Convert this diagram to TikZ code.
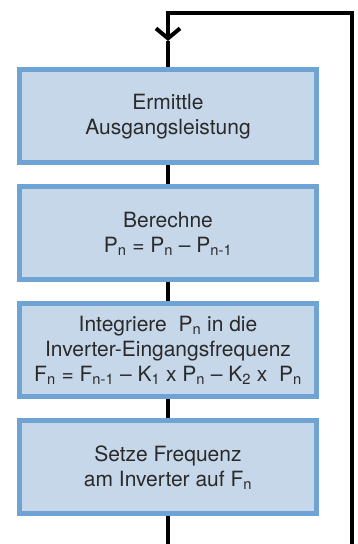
\documentclass[tikz,border=0pt]{standalone}
\usepackage{fontspec}
\setmainfont{TeX Gyre Heros}
\usetikzlibrary{positioning,arrows.meta}
\definecolor{boxfill}{HTML}{C6D7EA}
\definecolor{boxline}{HTML}{6FA3D3}
\definecolor{txt}{HTML}{2A2A2A}
\tikzset{
  stepbox/.style={draw=boxline,fill=boxfill,line width=5pt,minimum width=297pt,minimum height=93pt,
    inner sep=0pt,align=center,text=txt,font=\fontsize{21}{25}\selectfont},
  flow/.style={line width=4pt,black}
}
\newcommand{\idx}[1]{\textsubscript{#1}}
\begin{document}
\begin{tikzpicture}[x=1pt,y=1pt]
    \useasboundingbox (0,0) rectangle (357,544);
    % steps
    \node[stepbox] (ermittle) at (168,427.5) {Ermittle\\Ausgangsleistung};
    \node[stepbox,below=19pt of ermittle] (berechne) {Berechne\\P\idx{n} = P\idx{n} – P\idx{n-1}};
    \node[stepbox,below=19pt of berechne] (integriere) {Integriere\ \ P\idx{n} in die\\Inverter-Eingangsfrequenz\\F\idx{n} = F\idx{n-1} – K\idx{1} x P\idx{n} – K\idx{2} x\ \ P\idx{n}};
    \node[stepbox,below=19pt of integriere] (setze) {Setze Frequenz\\am Inverter auf F\idx{n}};
    % feedback loop
    \coordinate (entry) at (168,503);
    \coordinate (topleft) at (168,531);
    \coordinate (topright) at (352,531);
    \coordinate (rightend) at (352,0);
    \coordinate (bottomend) at (168,0);
    \draw[flow,-{Straight Barb[length=10pt,width=24pt]}] (rightend) -- (topright) -- (topleft) -- (entry);
    \draw[flow] (entry) -- (ermittle);
    \draw[flow] (ermittle) -- (berechne);
    \draw[flow] (berechne) -- (integriere);
    \draw[flow] (integriere) -- (setze);
    \draw[flow] (setze) -- (bottomend);
\end{tikzpicture}
\end{document}
